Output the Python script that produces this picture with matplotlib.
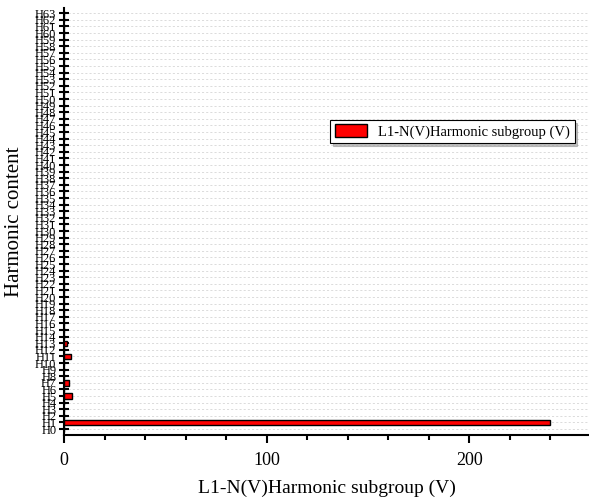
import matplotlib.pyplot as plt
import numpy as np

# harmonic orders H0..H63 and their voltage values (V)
harmonics = [f"H{i}" for i in range(64)]
values = [0.0] * 64
values[1] = 239.6
values[5] = 3.8
values[7] = 2.5
values[11] = 3.3
values[13] = 1.5

series_name = "L1-N(V)Harmonic subgroup (V)"
x_label = "L1-N(V)Harmonic subgroup (V)"
y_label = "Harmonic content"

plt.rcParams["font.family"] = ["Liberation Serif", "DejaVu Serif"]

fig = plt.figure(figsize=(5.89, 4.97), dpi=100)
ax = fig.add_axes([0.1087, 0.1247, 0.8913, 0.8593])

pos = np.arange(len(harmonics))
ax.barh(pos, values, height=0.8, color="#ff0000", edgecolor="black",
        linewidth=1.0, label=series_name, zorder=3)

ax.set_xlim(0, 259)
ax.set_ylim(-0.9, 63.8)
ax.set_yticks(pos)
ax.set_yticklabels(harmonics, fontsize=9)
ax.set_xticks([0, 100, 200])
ax.set_xticks(np.arange(0, 260, 20), minor=True)
ax.tick_params(axis="x", which="major", labelsize=13, direction="out",
               length=6, width=1.5, pad=6)
ax.tick_params(axis="x", which="minor", direction="out", length=3.5, width=1.5)
ax.tick_params(axis="y", which="major", direction="inout", length=7,
               width=1.5, pad=2)

ax.grid(axis="y", color="#d6d6d6", linestyle=(0, (2.5, 2.5)), linewidth=0.6, zorder=0)
for side in ("top", "right"):
    ax.spines[side].set_visible(False)
for side in ("left", "bottom"):
    ax.spines[side].set_linewidth(1.5)

ax.set_xlabel(x_label, fontsize=14, labelpad=8)
ax.set_ylabel(y_label, fontsize=15, labelpad=8)

leg = ax.legend(loc="upper left", bbox_to_anchor=(0.507, 0.738), fontsize=10.5,
                frameon=True, fancybox=False,
                shadow={"color": "0.6", "alpha": 0.6},
                borderpad=0.3, handlelength=2.2, handleheight=1.0,
                borderaxespad=0)
leg.get_frame().set_edgecolor("black")
leg.get_frame().set_linewidth(0.8)

fig.savefig("out.png", dpi=100)
